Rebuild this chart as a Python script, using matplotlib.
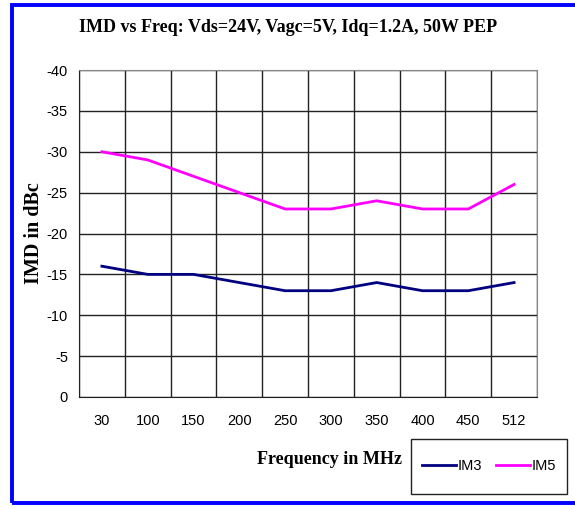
import matplotlib.pyplot as plt
from matplotlib.patches import Rectangle
from matplotlib.ticker import FixedLocator

freqs = ["30", "100", "150", "200", "250", "300", "350", "400", "450", "512"]
im3 = [-16, -15, -15, -14, -13, -13, -14, -13, -13, -14]
im5 = [-30, -29, -27, -25, -23, -23, -24, -23, -23, -26]

narrow = ['Liberation Sans Narrow', 'Liberation Sans', 'DejaVu Sans']
serif = ['Liberation Serif', 'DejaVu Serif']

fig = plt.figure(figsize=(5.75, 5.09), dpi=100)
ax = fig.add_axes([79/575, 1 - 397/509, 458/575, 327/509])

x = list(range(len(freqs)))
ax.plot(x, im3, color='#000080', lw=2.0, label='IM3')
ax.plot(x, im5, color='#FF00FF', lw=2.0, label='IM5')

ax.set_xlim(-0.5, len(freqs) - 0.5)
ax.set_ylim(0, -40)
ax.set_yticks(range(0, -45, -5))
ax.set_yticklabels([str(v) for v in range(0, -45, -5)], family=narrow, fontsize=10.5)
ax.set_xticks(x)
ax.set_xticklabels(freqs, family=narrow, fontsize=10.5)
ax.xaxis.set_minor_locator(FixedLocator([i - 0.5 for i in range(len(freqs) + 1)]))
ax.tick_params(axis='both', which='both', length=0)
ax.tick_params(axis='x', pad=12)
ax.tick_params(axis='y', pad=8)
ax.grid(True, axis='y', which='major', color='#222222', lw=1.0)
ax.grid(True, axis='x', which='minor', color='#222222', lw=1.0)
ax.set_axisbelow(True)
for s in ['left', 'bottom']:
    ax.spines[s].set_color('#222222')
for s in ['top', 'right']:
    ax.spines[s].set_color('#888888')

ax.set_ylabel('IMD in dBc', family=serif, fontweight='bold', fontsize=14.5, labelpad=2)
fig.text(329/575, 1 - 459/509, 'Frequency in MHz', family=serif, fontweight='bold',
         fontsize=13, ha='center', va='center')
fig.text(288/575, 1 - 28/509, 'IMD vs Freq: Vds=24V, Vagc=5V, Idq=1.2A, 50W PEP',
         family=serif, fontweight='bold', fontsize=13, ha='center', va='center')

# legend without frame, box drawn separately
leg = fig.legend(loc='center', bbox_to_anchor=(489/575, 1 - 466/509), ncol=2,
                 frameon=False, prop={'family': narrow, 'size': 10.5},
                 handlelength=2.3, handletextpad=0.1, columnspacing=1.0,
                 borderpad=0, borderaxespad=0)
fig.patches.append(Rectangle((411/575, 1 - 494/509), 156/575, 55/509, transform=fig.transFigure,
                             fill=False, edgecolor='#222222', lw=1.0))

fig.patches.append(Rectangle((12/575, 1 - 503/509), 1.0, 498/509, transform=fig.transFigure,
                             fill=False, edgecolor='#0000FF', lw=2.8))

fig.savefig('out.png', dpi=100)
plt.close()
